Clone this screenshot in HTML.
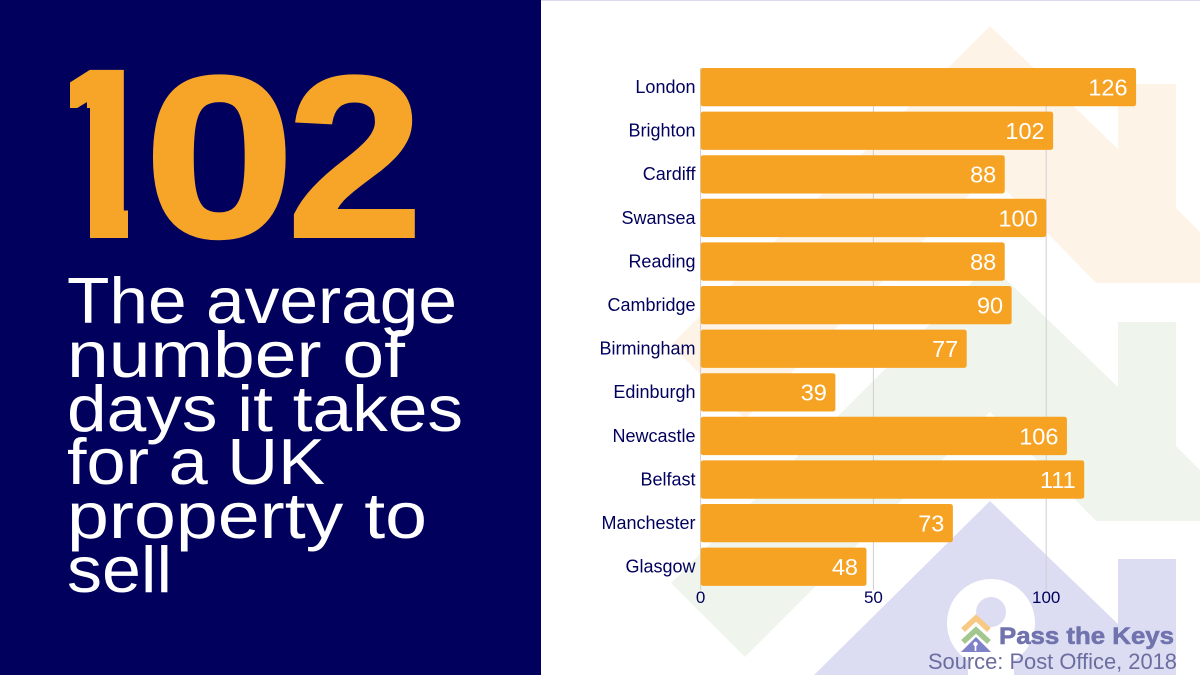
<!DOCTYPE html>
<html lang="en">
<head>
<meta charset="utf-8">
<title>Average days to sell a UK property</title>
<style>
html,body{margin:0;padding:0;background:#fff;}
body{width:1200px;height:675px;overflow:hidden;}
svg{display:block;font-family:"Liberation Sans",sans-serif;}
</style>
</head>
<body>
<svg id="chart" xmlns="http://www.w3.org/2000/svg" width="1200" height="675" viewBox="0 0 1200 675">
  <rect width="1200" height="675" fill="#ffffff"/>
  <g>
    <polygon fill="#fdf3e6" points="990,26 1118,149 1118,84 1176,84 1176,208 1200,232 1200,283 1096,283 990,174 745,419 671,345"/>
    <polygon fill="#eff5ec" points="990,264 1118,387 1118,322 1176,322 1176,446 1200,470 1200,521 1096,521 990,412 745,657 671,583"/>
    <polygon fill="#dcddf3" points="990,501 1118,624 1118,559 1176,559 1176,675 814,675"/>
    <circle cx="991" cy="623" r="44" fill="#ffffff"/>
    <rect x="968" y="650" width="46" height="25" fill="#ffffff"/>
    <circle cx="991" cy="612" r="15" fill="#dcddf3"/>
  </g>
  <rect x="541" y="0" width="659" height="1" fill="#d9daec"/>
  <rect width="541" height="675" fill="#01015d"/>

  <g font-size="230" font-weight="700" fill="#f7a528" stroke="#f7a528" stroke-width="3">
    <text x="31" y="236.5" font-size="240" textLength="137" lengthAdjust="spacingAndGlyphs">1</text>
    <rect x="20" y="50" width="50" height="200" fill="#01015d" stroke="none"/>
    <rect x="68" y="108" width="22" height="140" fill="#01015d" stroke="none"/>
    <rect x="128" y="50" width="50" height="200" fill="#01015d" stroke="none"/>
    <rect x="68" y="238" width="110" height="12" fill="#01015d" stroke="none"/>
    <text x="144" y="236.5" textLength="151" lengthAdjust="spacingAndGlyphs">0</text>
    <text x="287" y="236.5" textLength="136" lengthAdjust="spacingAndGlyphs">2</text>
  </g>

  <g font-size="65" fill="#ffffff">
    <text x="67" y="323" textLength="390" lengthAdjust="spacingAndGlyphs">The average</text>
    <text x="67" y="377" textLength="338" lengthAdjust="spacingAndGlyphs">number of</text>
    <text x="67" y="431" textLength="396" lengthAdjust="spacingAndGlyphs">days it takes</text>
    <text x="67" y="484" textLength="258" lengthAdjust="spacingAndGlyphs">for a UK</text>
    <text x="67" y="538" textLength="360" lengthAdjust="spacingAndGlyphs">property to</text>
    <text x="67" y="592" textLength="105" lengthAdjust="spacingAndGlyphs">sell</text>
  </g>

  <g id="plot"></g>

  <g>
    <polyline points="963,630 976,618 989,630" fill="none" stroke="#f8c983" stroke-width="5.5"/>
    <polyline points="963,642 976,630 989,642" fill="none" stroke="#a3c78f" stroke-width="5.5"/>
    <polygon points="961,652 976,637 991,652" fill="#7f82c9"/>
    <circle cx="975.500" cy="644" r="2.2" fill="#ffffff"/>
    <rect x="974.700" y="645" width="1.600" height="6" fill="#ffffff"/>
    <text x="999" y="644" font-size="24" font-weight="700" fill="#7073ad" stroke="#7073ad" stroke-width="0.6" textLength="175" lengthAdjust="spacingAndGlyphs">Pass the Keys</text>
  </g>
  <text x="1177" y="669" font-size="21.9" fill="#6b6d9f" text-anchor="end">Source: Post Office, 2018</text>
</svg>
<script>
const categories = ["London","Brighton","Cardiff","Swansea","Reading","Cambridge","Birmingham","Edinburgh","Newcastle","Belfast","Manchester","Glasgow"];
const daysToSell = [126,102,88,100,88,90,77,39,106,111,73,48];
const tickValues = [0,50,100];

const NS = "http://www.w3.org/2000/svg";
const plot = document.getElementById("plot");
const xOrigin = 700.6, pxPerDay = 3.456, yStart = 68, rowStep = 43.6, barHeight = 38.3;
function xScale(v){ return xOrigin + v * pxPerDay; }
function yScale(i){ return yStart + i * rowStep; }
function make(tag, attrs, text){
  const el = document.createElementNS(NS, tag);
  for (const k in attrs) el.setAttribute(k, attrs[k]);
  if (text !== undefined) el.textContent = text;
  return el;
}

tickValues.forEach(function(t){
  const line = make("line", {x1:xScale(t), x2:xScale(t), y1:yStart, y2:590, stroke:"#cfcfd4", "stroke-width":1});
  
  
  plot.appendChild(line);
  const label = make("text", {x:xScale(t), y:603, "font-size":17, fill:"#01015d", "text-anchor":"middle"}, t);
  
  
  plot.appendChild(label);
});

categories.forEach(function(name, i){
  const y = yScale(i);
  const v = daysToSell[i];
  const label = make("text", {x:695.5, y:y+25, "font-size":18, fill:"#01015d", "text-anchor":"end"}, name);
  
  
  plot.appendChild(label);
  const bar = make("rect", {x:xOrigin, y:y, width:xScale(v)-xOrigin, height:barHeight, rx:2.5, fill:"#f6a324"});
  
  
  plot.appendChild(bar);
  const value = make("text", {x:xScale(v)-8.5, y:y+27.5, "font-size":23.5, fill:"#ffffff", "text-anchor":"end"}, v);
  
  
  plot.appendChild(value);
});
</script>
</body>
</html>
